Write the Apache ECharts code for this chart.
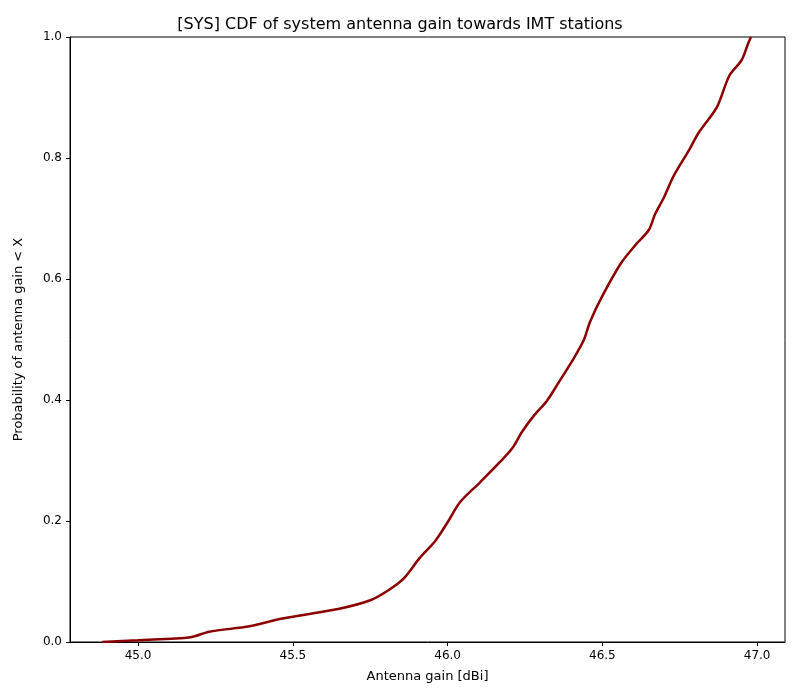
<!DOCTYPE html>
<html><head><meta charset="utf-8">
<script src="https://cdn.jsdelivr.net/npm/echarts@6/dist/echarts.min.js"></script>
<style>body{margin:0}#c{width:800px;height:700px}</style></head>
<body><div id="c"></div>
<script>
const gain = [44.884,45.0,45.17,45.23,45.36,45.44,45.49,45.65,45.75,45.81,45.86,45.91,45.96,46.0,46.04,46.105,46.17,46.21,46.24,46.28,46.32,46.36,46.41,46.44,46.46,46.5,46.56,46.61,46.65,46.67,46.70,46.73,46.78,46.81,46.87,46.91,46.95,46.97,46.98];
const prob = [0,0.003,0.008,0.017,0.026,0.036,0.041,0.055,0.069,0.086,0.106,0.139,0.167,0.198,0.231,0.264,0.298,0.321,0.347,0.375,0.398,0.430,0.471,0.499,0.529,0.572,0.626,0.658,0.681,0.707,0.736,0.770,0.813,0.841,0.884,0.936,0.962,0.988,1.0];
const xTicks = [45.0,45.5,46.0,46.5,47.0];
const yTicks = [0,0.2,0.4,0.6,0.8,1.0];
const font = 'DejaVu Sans';
const chart = echarts.init(document.getElementById('c'));
chart.setOption({
  animation:false,
  title:{text:'[SYS] CDF of system antenna gain towards IMT stations',left:'center',top:12,textStyle:{fontFamily:font,fontSize:16,fontWeight:'normal',color:'#000'}},
  grid:{left:70,right:15,top:37,bottom:58,show:true,borderColor:'#000',borderWidth:1},
  xAxis:{type:'value',min:44.78,max:47.09,name:'Antenna gain [dBi]',nameLocation:'middle',nameGap:28,
    nameTextStyle:{fontFamily:font,fontSize:13,color:'#000'},
    axisLine:{show:true,onZero:false,lineStyle:{color:'#000'}},
    axisTick:{show:true,customValues:xTicks,length:4,lineStyle:{color:'#000'}},
    axisLabel:{customValues:xTicks,formatter:v=>v.toFixed(1),fontFamily:font,fontSize:12,color:'#000'},
    splitLine:{show:false}},
  yAxis:{type:'value',min:0,max:1,interval:0.2,name:'Probability of antenna gain < X',nameLocation:'middle',nameGap:45,
    nameTextStyle:{fontFamily:font,fontSize:13,color:'#000'},
    axisLine:{show:true,lineStyle:{color:'#000'}},
    axisTick:{show:true,length:4,lineStyle:{color:'#000'}},
    axisLabel:{formatter:v=>v.toFixed(1),fontFamily:font,fontSize:12,color:'#000'},
    splitLine:{show:false}},
  series:[{type:'line',data:gain.map((g,i)=>[g,prob[i]]),showSymbol:false,smooth:0.3,lineStyle:{color:'#8b0000',width:2.5}}]
});
</script></body></html>
